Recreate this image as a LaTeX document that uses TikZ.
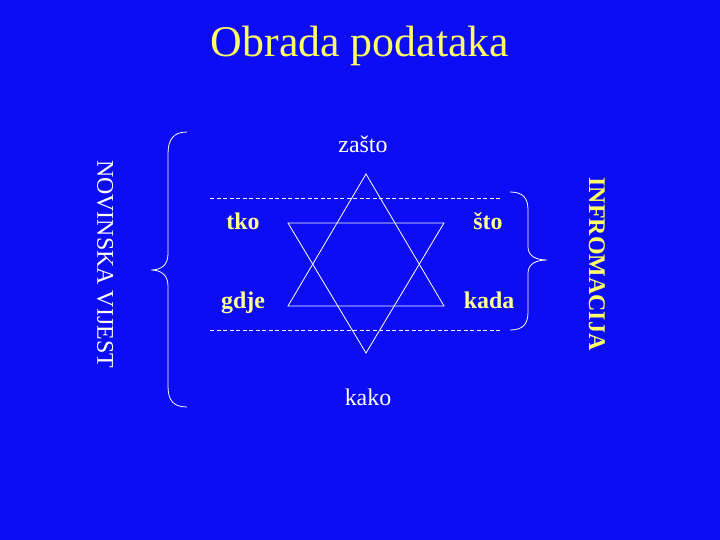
\documentclass[tikz,border=0pt]{standalone}
\usepackage{fontspec}
\setmainfont{Liberation Serif}
\usepackage{xcolor}
\usetikzlibrary{arrows,calc,positioning}
\definecolor{slideblue}{RGB}{12,12,245}
\definecolor{titleyellow}{RGB}{255,255,102}
\definecolor{wordyellow}{RGB}{255,255,153}

\begin{document}
\begin{tikzpicture}[x=1bp, y=-1bp]
		\tikzstyle{every node}=[font=\fontsize{24}{28}\selectfont, inner sep=0pt, anchor=base]
		\tikzstyle{thinline}=[line width=0.8pt, white]
		\tikzstyle{word}=[font=\fontsize{24}{28}\selectfont\bfseries, text=wordyellow]
		\fill [slideblue] (0,0) rectangle (720,540);
		\useasboundingbox (0,0) rectangle (720,540);
		% title
		\node [font=\fontsize{44}{50}\selectfont, text=titleyellow] (title) at (360,57) {Obrada podataka};
		% dashed band
		\draw [thinline, dash pattern=on 4bp off 2.5bp] (210,198) -- (502,198);
		\draw [thinline, dash pattern=on 4bp off 2.5bp] (210,330) -- (502,330);
		% star
		\coordinate (up) at (366,174);
		\coordinate (upl) at (288,306);
		\coordinate (upr) at (444,306);
		\coordinate (dn) at (366,353);
		\coordinate (dnl) at (288,223);
		\coordinate (dnr) at (444,223);
		\draw [thinline] (up) -- (upr) -- (upl) -- cycle;
		\draw [thinline] (dn) -- (dnr) -- (dnl) -- cycle;
		% braces
		\draw [thinline] (187,132) .. controls (173,132) and (168,140) .. (168,154) -- (168,254)
			.. controls (168,265) and (161,270) .. (151,270) .. controls (161,270) and (168,275) .. (168,286)
			-- (168,386) .. controls (168,400) and (173,407) .. (187,407);
		\draw [thinline] (510,192) .. controls (523,192) and (528,198) .. (528,210) -- (528,247)
			.. controls (528,256) and (536,260) .. (547,260) .. controls (536,260) and (528,264) .. (528,273)
			-- (528,312) .. controls (528,324) and (523,330) .. (510,330);
		% words
		\node [text=white] (zasto) at (363,153) {zašto};
		\node [text=white] (kako) at (368,405) {kako};
		\node [word] (tko) at (243,230) {tko};
		\node [word] (sto) at (488,230) {što};
		\node [word] (gdje) at (243,308) {gdje};
		\node [word] (kada) at (489,308) {kada};
		\node [text=white, rotate=-90, anchor=center] (vijest) at (105,264) {NOVINSKA VIJEST};
		\node [word, text=titleyellow, rotate=-90, anchor=center] (info) at (597,264) {INFROMACIJA};
	\end{tikzpicture}
\end{document}
